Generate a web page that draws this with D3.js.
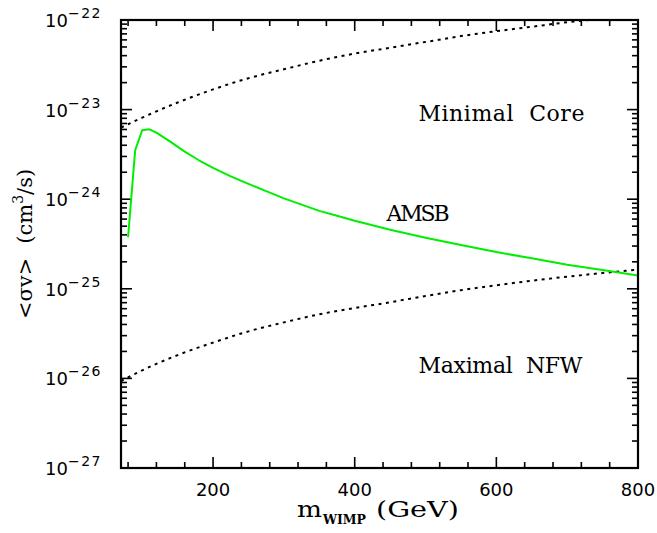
<!DOCTYPE html>
<html>
<head>
<meta charset="utf-8">
<script src="https://cdn.jsdelivr.net/npm/d3@7"></script>
<style>
  body { margin: 0; background: #fff; }
  svg { display: block; }
  .tick-label { font-family: "DejaVu Sans", sans-serif; fill: #000; }
  .lbl { font-family: "DejaVu Serif", serif; fill: #000; }
</style>
</head>
<body>
<div id="chart"></div>
<script>
// masses (GeV)
var mass = [70, 100, 150, 200, 250, 300, 350, 400, 450, 500, 550, 600, 650, 700, 750, 800];

// upper bound, minimal core halo
var minimalCore = [6.31e-24, 8.13e-24, 1.20e-23, 1.68e-23, 2.24e-23, 2.82e-23, 3.51e-23, 4.22e-23,
                   4.90e-23, 5.69e-23, 6.61e-23, 7.50e-23, 8.41e-23, 9.44e-23, 1.035e-22, 1.135e-22];

// upper bound, maximal NFW halo
var maximalNFW = [9.33e-27, 1.23e-26, 1.82e-26, 2.51e-26, 3.35e-26, 4.22e-26, 5.19e-26, 6.10e-26,
                  7.08e-26, 8.32e-26, 9.66e-26, 1.096e-25, 1.23e-25, 1.365e-25, 1.50e-25, 1.64e-25];

// AMSB model line
var amsbMass = [80, 90, 100, 110, 120, 140, 160, 180, 200, 225, 250, 275, 300, 325, 350, 375, 400,
                450, 500, 550, 600, 650, 700, 750, 800];
var amsbSigv = [3.76e-25, 3.52e-24, 5.88e-24, 6.03e-24, 5.53e-24, 4.37e-24, 3.39e-24, 2.72e-24, 2.24e-24,
                1.80e-24, 1.48e-24, 1.23e-24, 1.02e-24, 8.71e-25, 7.41e-25, 6.53e-25, 5.75e-25,
                4.57e-25, 3.72e-25, 3.09e-25, 2.57e-25, 2.19e-25, 1.86e-25, 1.62e-25, 1.41e-25];

var xMajor = [200, 400, 600, 800];
var yMajorExp = [-27, -26, -25, -24, -23, -22];

var W = 657, H = 533;
var margin = {top: 20, right: 19, bottom: 65, left: 121},
    width = W - margin.left - margin.right,
    height = H - margin.top - margin.bottom;

var svg = d3.select("#chart").append("svg")
    .attr("width", W).attr("height", H);
var g = svg.append("g")
    .attr("transform", "translate(" + margin.left + "," + margin.top + ")");

var x = d3.scaleLinear().domain([70, 800]).range([0, width]);
var y = d3.scaleLog().domain([1e-27, 1e-22]).range([height, 0]);

svg.append("defs").append("clipPath").attr("id", "clip")
  .append("rect").attr("width", width).attr("height", height);

// ticks (inside, on all four sides)
var xMinor = d3.range(80, 800, 40).filter(function(v) { return xMajor.indexOf(v) < 0; });
var yMinor = [];
yMajorExp.slice(0, -1).forEach(function(e) {
  for (var k = 2; k <= 9; k++) yMinor.push(k * Math.pow(10, e));
});

function tickLines(vals, len, sw) {
  vals.forEach(function(v) {
    g.append("line").attr("x1", x(v)).attr("x2", x(v)).attr("y1", height).attr("y2", height - len)
      .attr("stroke", "#000").attr("stroke-width", sw);
    g.append("line").attr("x1", x(v)).attr("x2", x(v)).attr("y1", 0).attr("y2", len)
      .attr("stroke", "#000").attr("stroke-width", sw);
  });
}
function yTickLines(vals, len, sw) {
  vals.forEach(function(v) {
    g.append("line").attr("y1", y(v)).attr("y2", y(v)).attr("x1", 0).attr("x2", len)
      .attr("stroke", "#000").attr("stroke-width", sw);
    g.append("line").attr("y1", y(v)).attr("y2", y(v)).attr("x1", width).attr("x2", width - len)
      .attr("stroke", "#000").attr("stroke-width", sw);
  });
}
tickLines(xMinor, 6, 1.6);
tickLines(xMajor, 11, 1.6);
yTickLines(yMinor, 6, 1.6);
yTickLines(yMajorExp.map(function(e) { return Math.pow(10, e); }), 11, 1.6);

// curves
var line = d3.line()
  .x(function(d) { return x(d[0]); })
  .y(function(d) { return y(d[1]); });

var plot = g.append("g").attr("clip-path", "url(#clip)");

plot.append("path")
  .datum(d3.zip(mass, minimalCore))
  .attr("fill", "none").attr("stroke", "#000").attr("stroke-width", 2)
  .attr("stroke-dasharray", "3,4.5")
  .attr("d", line.curve(d3.curveMonotoneX));

plot.append("path")
  .datum(d3.zip(mass, maximalNFW))
  .attr("fill", "none").attr("stroke", "#000").attr("stroke-width", 2)
  .attr("stroke-dasharray", "3,4.5")
  .attr("d", line.curve(d3.curveMonotoneX));

plot.append("path")
  .datum(d3.zip(amsbMass, amsbSigv))
  .attr("fill", "none").attr("stroke", "#00ee00").attr("stroke-width", 2)
  .attr("stroke-linejoin", "round")
  .attr("d", line.curve(d3.curveLinear));

// frame
g.append("rect").attr("width", width).attr("height", height)
  .attr("fill", "none").attr("stroke", "#000").attr("stroke-width", 2.2);

// x tick labels
xMajor.forEach(function(v) {
  g.append("text").attr("class", "tick-label")
    .attr("x", x(v)).attr("y", height + 28)
    .attr("text-anchor", "middle").style("font-size", "18px")
    .text(v);
});

// y tick labels 10^n
yMajorExp.forEach(function(e) {
  var t = g.append("text").attr("class", "tick-label")
    .attr("x", -19).attr("y", y(Math.pow(10, e)) + 7)
    .attr("text-anchor", "end").style("font-size", "18px");
  t.append("tspan").text("10");
  t.append("tspan").attr("dy", -9).style("font-size", "14px")
    .style("letter-spacing", "1.5px").text("\u2212" + (-e));
});

// axis titles
var xt = svg.append("text").attr("class", "lbl")
  .attr("x", 297).attr("y", 517)
  .style("font-size", "23px");
xt.append("tspan").attr("textLength", 25).attr("lengthAdjust", "spacingAndGlyphs").text("m");
xt.append("tspan").attr("dy", 7).attr("dx", 1).style("font-size", "12px").style("font-weight", "bold")
  .attr("textLength", 43).attr("lengthAdjust", "spacingAndGlyphs").text("WIMP");
xt.append("tspan").attr("dy", -7).attr("dx", 10)
  .attr("textLength", 83).attr("lengthAdjust", "spacingAndGlyphs").text("(GeV)");

var yt = svg.append("text").attr("class", "lbl")
  .attr("transform", "translate(32," + 244 + ") rotate(-90)")
  .attr("text-anchor", "middle").style("font-size", "21px");
yt.append("tspan").text("<\u03c3v>");
yt.append("tspan").attr("dx", 14).text("(cm");
yt.append("tspan").attr("dy", -9).style("font-size", "14px").text("3");
yt.append("tspan").attr("dy", 9).text("/s)");

// curve labels
var labels = [
  {text: "Minimal  Core", m: 490, v: 7.4e-24, len: 166},
  {text: "AMSB", m: 445, v: 5.7e-25, len: 63},
  {text: "Maximal  NFW", m: 490, v: 1.15e-26, len: 164}
];
labels.forEach(function(d) {
  g.append("text").attr("class", "lbl")
    .attr("x", x(d.m)).attr("y", y(d.v))
    .attr("textLength", d.len).attr("lengthAdjust", "spacing")
    .style("font-size", "22px").style("white-space", "pre")
    .text(d.text);
});
</script>
</body>
</html>
